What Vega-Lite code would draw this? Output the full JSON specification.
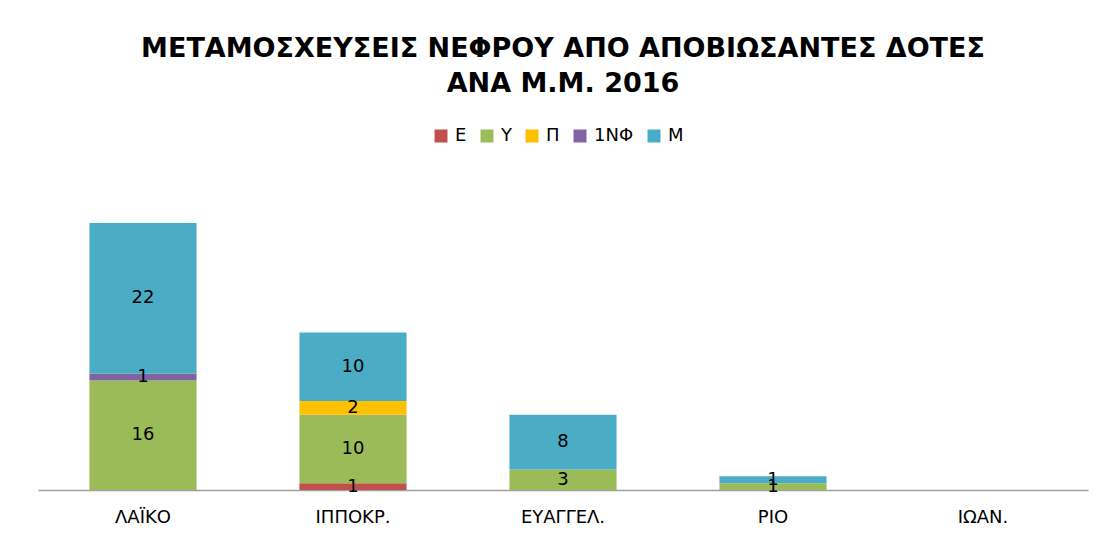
{
  "$schema": "https://vega.github.io/schema/vega-lite/v6.json",
  "width": 1050,
  "height": 308,
  "autosize": {"type": "none"},
  "padding": {"left": 38, "top": 182, "right": 11, "bottom": 53},
  "background": "white",
  "config": {
    "view": {"stroke": null},
    "font": "DejaVu Sans"
  },
  "title": {
    "text": ["ΜΕΤΑΜΟΣΧΕΥΣΕΙΣ ΝΕΦΡΟΥ ΑΠΟ ΑΠΟΒΙΩΣΑΝΤΕΣ ΔΟΤΕΣ", "ΑΝΑ Μ.Μ. 2016"],
    "fontSize": 27,
    "fontWeight": "bold",
    "color": "#000000",
    "lineHeight": 35,
    "anchor": "middle",
    "offset": 29,
    "font": "DejaVu Sans"
  },
  "data": {
    "values": [
      {"hosp": "ΛΑΪΚΟ", "series": "Υ", "value": 16},
      {"hosp": "ΛΑΪΚΟ", "series": "1ΝΦ", "value": 1},
      {"hosp": "ΛΑΪΚΟ", "series": "Μ", "value": 22},
      {"hosp": "ΙΠΠΟΚΡ.", "series": "Ε", "value": 1},
      {"hosp": "ΙΠΠΟΚΡ.", "series": "Υ", "value": 10},
      {"hosp": "ΙΠΠΟΚΡ.", "series": "Π", "value": 2},
      {"hosp": "ΙΠΠΟΚΡ.", "series": "Μ", "value": 10},
      {"hosp": "ΕΥΑΓΓΕΛ.", "series": "Υ", "value": 3},
      {"hosp": "ΕΥΑΓΓΕΛ.", "series": "Μ", "value": 8},
      {"hosp": "ΡΙΟ", "series": "Υ", "value": 1},
      {"hosp": "ΡΙΟ", "series": "Μ", "value": 1},
      {"hosp": "ΙΩΑΝ.", "series": "Μ", "value": null}
    ]
  },
  "transform": [
    {"calculate": "indexof(['Ε','Υ','Π','1ΝΦ','Μ'], datum.series)", "as": "ord"}
  ],
  "encoding": {
    "x": {
      "field": "hosp",
      "type": "nominal",
      "sort": ["ΛΑΪΚΟ", "ΙΠΠΟΚΡ.", "ΕΥΑΓΓΕΛ.", "ΡΙΟ", "ΙΩΑΝ."],
      "scale": {"paddingInner": 0.49, "paddingOuter": 0.245},
      "axis": {
        "title": null,
        "labelAngle": 0,
        "labelFontSize": 18,
        "labelColor": "#000000",
        "labelPadding": 18,
        "ticks": false,
        "domainColor": "#A0A0A0",
        "domainWidth": 1.3,
        "labelFont": "DejaVu Sans"
      }
    },
    "y": {
      "field": "value",
      "type": "quantitative",
      "stack": "zero",
      "scale": {"domain": [0, 45], "nice": false},
      "axis": null
    },
    "order": {"field": "ord", "type": "quantitative"}
  },
  "layer": [
    {
      "mark": {"type": "bar"},
      "encoding": {
        "color": {
          "field": "series",
          "type": "nominal",
          "scale": {
            "domain": ["Ε", "Υ", "Π", "1ΝΦ", "Μ"],
            "range": ["#C0504D", "#9BBB59", "#FFC000", "#8064A2", "#4BACC6"]
          },
          "legend": {
            "title": null,
            "orient": "none",
            "direction": "horizontal",
            "legendX": 394,
            "legendY": -55,
            "symbolType": "square",
            "symbolSize": 169,
            "symbolStrokeWidth": 0,
            "labelFontSize": 18,
            "labelColor": "#000000",
            "labelFont": "DejaVu Sans",
            "columnPadding": 11,
            "labelOffset": 5
          }
        }
      }
    },
    {
      "mark": {"type": "text", "fontSize": 18, "color": "#000000", "baseline": "middle"},
      "encoding": {
        "y": {
          "field": "value",
          "type": "quantitative",
          "stack": "zero",
          "bandPosition": 0.5
        },
        "text": {"field": "value", "type": "quantitative"}
      }
    }
  ]
}
